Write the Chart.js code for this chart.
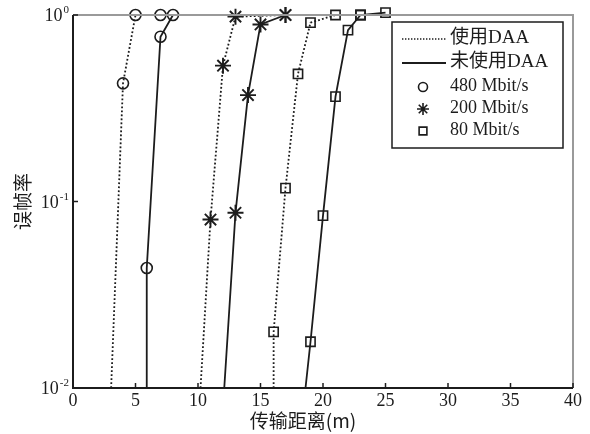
<!DOCTYPE html>
<html lang="zh">
<head>
  <meta charset="UTF-8">
  <title>误帧率 vs 传输距离</title>
  <script src="https://cdn.jsdelivr.net/npm/chart.js"></script>
  <style>
    html, body { margin: 0; padding: 0; background: #fff; }
    #wrap { width: 590px; height: 434px; }
  </style>
</head>
<body>
  <div id="wrap"><canvas id="frameChart"></canvas></div>

  <script>
    // axis ticks
    const xTicks = [0, 5, 10, 15, 20, 25, 30, 35, 40];
    const yTicks = [0.01, 0.1, 1];
    const yTickExp = ['-2', '-1', '0'];

    // 480 Mbit/s
    const x480Daa = [3.05, 4, 5, 7];
    const y480Daa = [0.01, 0.43, 1, 1];
    const x480NoDaa = [5.9, 5.9, 7, 8];
    const y480NoDaa = [0.01, 0.044, 0.765, 1];
    // 200 Mbit/s
    const x200Daa = [10.2, 11, 12, 13, 17];
    const y200Daa = [0.01, 0.08, 0.535, 0.98, 1];
    const x200NoDaa = [12.1, 13, 14, 15, 17];
    const y200NoDaa = [0.01, 0.087, 0.372, 0.89, 1];
    // 80 Mbit/s
    const x80Daa = [16.05, 16.05, 17, 18, 19, 21, 23];
    const y80Daa = [0.01, 0.02, 0.118, 0.483, 0.91, 1, 1];
    const x80NoDaa = [18.6, 19, 20, 21, 22, 23, 25];
    const y80NoDaa = [0.01, 0.0177, 0.084, 0.365, 0.83, 1, 1.03];

    const legendLines = ['使用DAA', '未使用DAA'];
    const legendRates = ['480 Mbit/s', '200 Mbit/s', '80 Mbit/s'];

    const INK = '#1c1c1c';
    const SERIF = '"Liberation Serif", "Times New Roman", "Noto Sans CJK SC", serif';
    const CJK = '"Noto Sans CJK SC", sans-serif';

    const toPts = (xs, ys) => xs.map((x, i) => ({ x: x, y: ys[i] }));

    const styleFor = { '480': 'circle', '200': 'star', '80': 'rect' };
    const radiusFor = { circle: 5.5, star: 8, rect: 6.5 };

    const makeSet = (label, xs, ys, rate, dotted) => {
      const ps = styleFor[rate];
      return {
        label: label,
        data: toPts(xs, ys),
        borderColor: INK,
        borderWidth: dotted ? 1.8 : 1.8,
        borderDash: dotted ? [1.8, 2.2] : [],
        pointStyle: ps,
        pointBorderColor: INK,
        pointBackgroundColor: 'rgba(0,0,0,0)',
        pointBorderWidth: ps === 'star' ? 1.9 : 1.6,
        pointRadius: c => (c.raw && c.raw.y <= 0.0101 ? 0 : radiusFor[ps]),
        tension: 0,
        clip: false
      };
    };

    const datasets = [
      makeSet('480 使用DAA', x480Daa, y480Daa, '480', true),
      makeSet('480 未使用DAA', x480NoDaa, y480NoDaa, '480', false),
      makeSet('200 使用DAA', x200Daa, y200Daa, '200', true),
      makeSet('200 未使用DAA', x200NoDaa, y200NoDaa, '200', false),
      makeSet('80 使用DAA', x80Daa, y80Daa, '80', true),
      makeSet('80 未使用DAA', x80NoDaa, y80NoDaa, '80', false)
    ];

    // axes box, ticks, labels, titles and the legend box (MATLAB look)
    const frame = {
      id: 'frame',
      afterDraw(chart) {
        const { ctx, chartArea: a, scales: { x, y } } = chart;
        ctx.save();

        // top/right in grey, left/bottom in black
        ctx.lineWidth = 2;
        ctx.strokeStyle = '#9a9a9a';
        ctx.beginPath();
        ctx.moveTo(a.left, a.top); ctx.lineTo(a.right, a.top); ctx.lineTo(a.right, a.bottom);
        ctx.stroke();
        ctx.strokeStyle = INK;
        ctx.beginPath();
        ctx.moveTo(a.left, a.top); ctx.lineTo(a.left, a.bottom); ctx.lineTo(a.right, a.bottom);
        ctx.stroke();

        // x ticks
        ctx.lineWidth = 1.5;
        ctx.fillStyle = INK;
        ctx.font = '18px ' + SERIF;
        ctx.textAlign = 'center';
        ctx.textBaseline = 'top';
        xTicks.forEach(t => {
          const px = x.getPixelForValue(t);
          ctx.beginPath(); ctx.moveTo(px, a.bottom); ctx.lineTo(px, a.bottom - 5); ctx.stroke();
          ctx.fillText(String(t), px, a.bottom + 4);
        });

        // y ticks as 10^n
        yTicks.forEach((t, i) => {
          const py = y.getPixelForValue(t);
          ctx.beginPath(); ctx.moveTo(a.left, py); ctx.lineTo(a.left + 5, py); ctx.stroke();
          ctx.font = '11px ' + SERIF;
          ctx.textAlign = 'right';
          ctx.textBaseline = 'alphabetic';
          const expW = ctx.measureText(yTickExp[i]).width;
          ctx.fillText(yTickExp[i], a.left - 4, py - 2);
          ctx.font = '18px ' + SERIF;
          ctx.fillText('10', a.left - 5 - expW, py + 6);
        });

        // titles
        ctx.font = '19px ' + CJK;
        ctx.textAlign = 'center';
        ctx.textBaseline = 'middle';
        ctx.fillText('传输距离(m)', 303, 421);
        ctx.save();
        ctx.translate(23, (a.top + a.bottom) / 2);
        ctx.rotate(-Math.PI / 2);
        ctx.fillText('误帧率', 0, 0);
        ctx.restore();

        // legend
        const L = { left: 392, top: 22, right: 563, bottom: 148 };
        ctx.fillStyle = '#fff';
        ctx.fillRect(L.left, L.top, L.right - L.left, L.bottom - L.top);
        ctx.strokeStyle = INK;
        ctx.lineWidth = 1.5;
        ctx.strokeRect(L.left, L.top, L.right - L.left, L.bottom - L.top);

        const rowY = [38, 62, 86, 108, 130];
        const textX = 450;
        ctx.fillStyle = INK;
        ctx.textAlign = 'left';
        ctx.textBaseline = 'middle';

        ctx.font = '19px ' + SERIF;
        legendLines.forEach((txt, i) => {
          ctx.save();
          ctx.lineWidth = i === 0 ? 1.4 : 1.8;
          ctx.setLineDash(i === 0 ? [1.4, 1.6] : []);
          ctx.beginPath(); ctx.moveTo(402, rowY[i] + 1); ctx.lineTo(446, rowY[i] + 1); ctx.stroke();
          ctx.restore();
          ctx.fillText(txt, textX, rowY[i]);
        });

        ctx.font = '18px ' + SERIF;
        const rateStyles = ['circle', 'star', 'rect'];
        const legendR = { circle: 4.5, star: 6, rect: 5.5 };
        legendRates.forEach((txt, i) => {
          const yy = rowY[i + 2];
          ctx.save();
          ctx.strokeStyle = INK;
          ctx.fillStyle = 'rgba(0,0,0,0)';
          ctx.lineWidth = 1.6;
          Chart.helpers.drawPoint(ctx, { pointStyle: rateStyles[i], rotation: 0, radius: legendR[rateStyles[i]], borderWidth: 1.6 }, 423, yy + 1);
          ctx.restore();
          ctx.fillText(txt, textX, yy);
        });

        ctx.restore();
      }
    };

    new Chart(document.getElementById('frameChart'), {
      type: 'line',
      data: { datasets: datasets },
      options: {
        responsive: true,
        maintainAspectRatio: false,
        animation: false,
        events: [],
        layout: { padding: { left: 73, right: 17, top: 15, bottom: 46 } },
        plugins: { legend: { display: false }, tooltip: { enabled: false } },
        scales: {
          x: {
            type: 'linear', min: 0, max: 40,
            grid: { display: false, drawTicks: false }, border: { display: false },
            ticks: { display: false }
          },
          y: {
            type: 'logarithmic', min: 0.01, max: 1,
            grid: { display: false, drawTicks: false }, border: { display: false },
            ticks: { display: false }
          }
        }
      },
      plugins: [frame]
    });
  </script>
</body>
</html>
